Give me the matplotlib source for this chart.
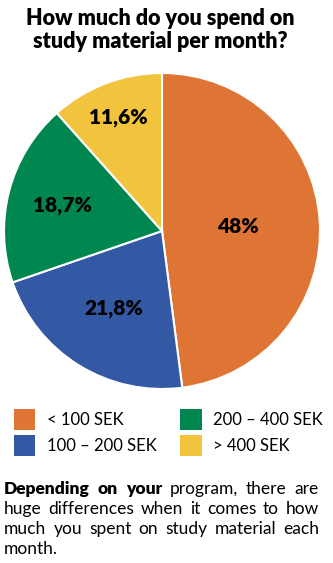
import matplotlib
matplotlib.use("Agg")
from matplotlib import pyplot as plt
from matplotlib.patches import Patch
import numpy as np

categories = ["< 100 SEK", "100 – 200 SEK", "200 – 400 SEK", "> 400 SEK"]
shares = [48, 21.8, 18.7, 11.6]
share_labels = ["48%", "21,8%", "18,7%", "11,6%"]
colors = ["#DE7535", "#3358A4", "#00874F", "#F2C43D"]
label_radius = [0.48, 0.58, 0.65, 0.77]

title = "How much do you spend on\nstudy material per month?"
body_bold = "Depending on your"
body_rest = ("program, there are huge differences when it comes to how "
             "much you spent on study material each month.")

plt.rcParams["font.family"] = ["Lato", "DejaVu Sans"]

fig = plt.figure(figsize=(3.33, 5.63), dpi=100)
W, H = 333, 563

fig.text(0.48, 1 - 8 / H, title, ha="center", va="top", fontsize=15.5,
         fontweight="heavy", linespacing=1.1)

# pie area: center (162, 231), radius 158 px
r = 158
ax = fig.add_axes([(162 - r) / W, 1 - (231 + r) / H, 2 * r / W, 2 * r / H])
wedges, _ = ax.pie(shares, colors=colors, startangle=90, counterclock=False,
                   wedgeprops=dict(edgecolor="white", linewidth=1.5))
ax.set_xlim(-1, 1)
ax.set_ylim(-1, 1)
ax.set_aspect("equal")
ax.axis("off")
for w, lab, d in zip(wedges, share_labels, label_radius):
    ang = np.deg2rad((w.theta1 + w.theta2) / 2)
    ax.text(d * np.cos(ang), d * np.sin(ang), lab, ha="center", va="center",
            fontsize=15, fontweight="heavy", color="black")

handles = [Patch(facecolor=c, edgecolor="none") for c in colors]
fig.legend(handles, categories, ncol=2, loc="upper left",
           bbox_to_anchor=(2 / W, 1 - 397 / H), frameon=False,
           fontsize=12, handlelength=1.3, handleheight=1.55,
           handletextpad=0.7, columnspacing=1.4, labelspacing=0.35,
           borderaxespad=0.3)

# justified paragraph at the bottom
renderer = fig.canvas.get_renderer()
left, right = 4, 319
fs = 12.5
words = [(w, "heavy") for w in body_bold.split()] + \
        [(w, "normal") for w in body_rest.split()]


def width(word, weight):
    t = fig.text(0, 0, word, fontsize=fs, fontweight=weight)
    bb = t.get_window_extent(renderer)
    t.remove()
    return bb.width


space = width("a b", "normal") - width("ab", "normal")
lines, cur, curw = [], [], 0
for w, wt in words:
    ww = width(w, wt)
    add = ww if not cur else curw + space + ww
    if cur and add > right - left:
        lines.append(cur)
        cur, curw = [(w, wt, ww)], ww
    else:
        cur.append((w, wt, ww))
        curw = add
lines.append(cur)

y = 481
for i, line in enumerate(lines):
    total = sum(x[2] for x in line)
    if i < len(lines) - 1 and len(line) > 1:
        gap = (right - left - total) / (len(line) - 1)
    else:
        gap = space
    x = left
    for w, wt, ww in line:
        fig.text(x / W, 1 - y / H, w, fontsize=fs, fontweight=wt,
                 ha="left", va="top")
        x += ww + gap
    y += 20

fig.savefig("out.png", dpi=100)
